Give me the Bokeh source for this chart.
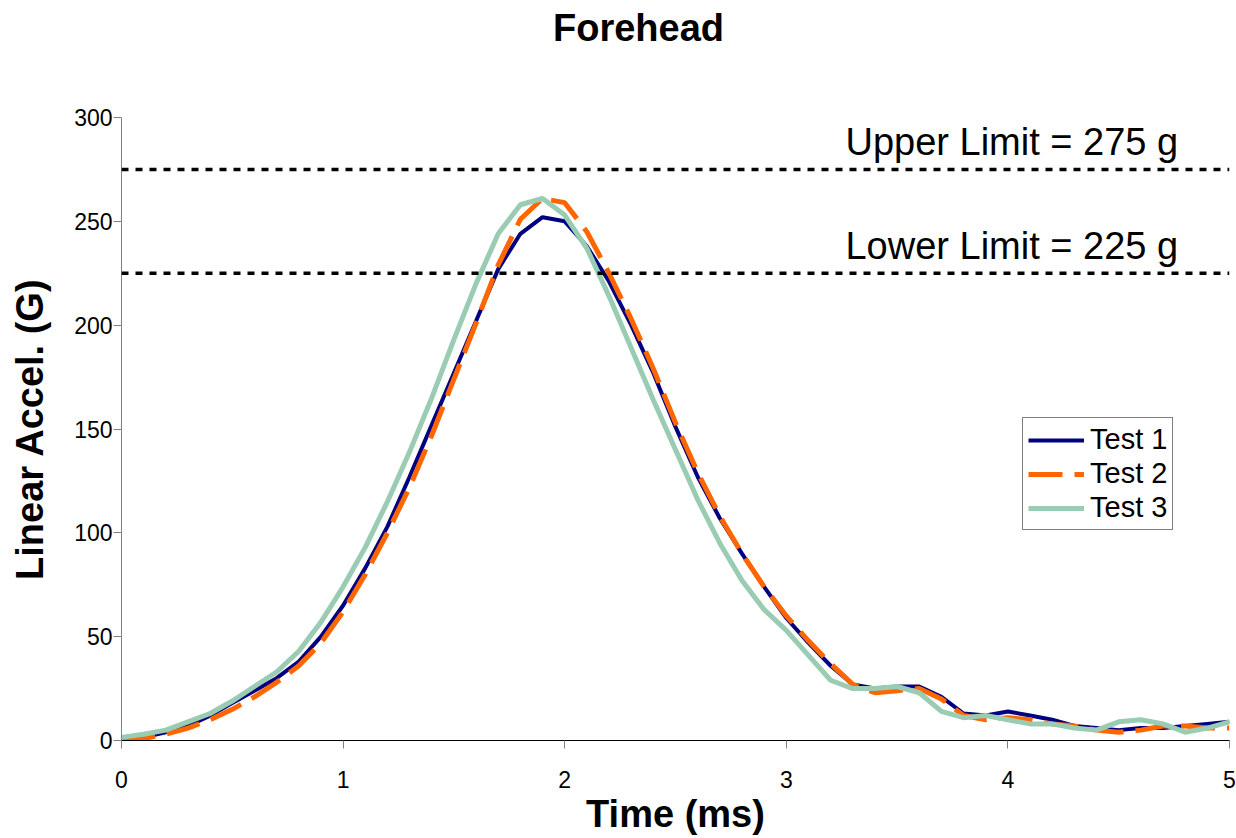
from bokeh.plotting import figure
from bokeh.models import Range1d, FixedTicker, Label, Span, Legend, LegendItem, LinearAxis
from bokeh.embed import file_html
from bokeh.resources import INLINE

title_text = "Forehead"
x_label = "Time (ms)"
y_label = "Linear Accel. (G)"

time_ms = [round(i * 0.1, 1) for i in range(51)]
test1 = [0.5, 1.5, 4, 7, 12, 18, 24, 30, 38, 50, 65, 83, 103, 127, 152, 177, 202, 227, 244, 252,
         250, 238, 221, 200, 177, 151, 127, 107, 90, 74, 59, 47, 36, 27, 25, 26, 26, 21, 13, 12,
         14, 12, 10, 7, 6, 5, 6, 6, 7, 8, 9]
test2 = [0, 1, 3, 6, 10, 15, 21, 28, 36, 47, 62, 80, 100, 122, 147, 174, 201, 229, 251, 261,
         259, 245, 225, 203, 179, 153, 129, 108, 90, 74, 60, 48, 37, 27, 23, 24, 25, 20, 12, 10,
         11, 10, 8, 7, 5, 4, 5, 7, 7, 6, 6]
test3 = [1.5, 3, 5, 9, 13, 19, 26, 33, 43, 57, 74, 93, 115, 139, 165, 193, 220, 244, 258, 261,
         253, 237, 214, 189, 164, 140, 116, 95, 77, 63, 53, 41, 29, 25, 25, 26, 23, 14, 11, 12,
         10, 8, 8, 6, 5, 9, 10, 8, 4, 6, 9]
series_names = ["Test 1", "Test 2", "Test 3"]
upper_limit = 275
lower_limit = 225
limit_texts = ["Upper Limit = 275 g", "Lower Limit = 225 g"]
x_ticks = [0, 1, 2, 3, 4, 5]
y_ticks = [0, 50, 100, 150, 200, 250, 300]

FONT = "Liberation Sans"

p = figure(width=1236, height=838, output_backend="svg", toolbar_location=None,
           x_range=Range1d(0, 5), y_range=Range1d(0, 300),
           min_border_left=121, min_border_right=7, min_border_top=117, min_border_bottom=98,
           frame_width=1108, frame_height=623)
p.outline_line_color = None
p.background_fill_color = "white"
p.border_fill_color = "white"
p.xgrid.visible = False
p.ygrid.visible = False

xax = p.below[0]
yax = p.left[0]

for ax in (xax, yax):
    ax.major_label_text_font = FONT
    ax.major_label_text_font_size = "23px"
    ax.major_label_text_color = "black"
    ax.axis_label_text_font = FONT
    ax.axis_label_text_font_size = "38px"
    ax.axis_label_text_font_style = "bold"
    ax.axis_label_text_color = "black"
    ax.minor_tick_line_color = None
    ax.major_tick_in = 0
    ax.major_tick_out = 8
    ax.major_tick_line_color = "#808080"

xax.ticker = FixedTicker(ticks=x_ticks)
yax.ticker = FixedTicker(ticks=y_ticks)
xax.axis_label = x_label
yax.axis_label = y_label
xax.axis_line_color = "black"
yax.axis_line_color = "#808080"
xax.major_label_standoff = 22
yax.major_label_standoff = 1
xax.axis_label_standoff = 2
yax.axis_label_standoff = 20

# chart title carried by a bare axis above the frame; trailing no-break spaces
# move the visible word to the page centre (the axis centres on the frame)
title_axis = LinearAxis(ticker=FixedTicker(ticks=[]),
                        axis_label=title_text + "\u00a0" * 7)
title_axis.axis_line_color = None
title_axis.major_tick_line_color = None
title_axis.minor_tick_line_color = None
title_axis.major_tick_out = 0
title_axis.major_tick_in = 0
title_axis.major_label_standoff = 0
title_axis.axis_label_standoff = 69
title_axis.axis_label_text_font = FONT
title_axis.axis_label_text_font_size = "38px"
title_axis.axis_label_text_font_style = "bold"
title_axis.axis_label_text_color = "black"
p.add_layout(title_axis, "above")

for yv in (upper_limit, lower_limit):
    p.add_layout(Span(location=yv, dimension="width", line_color="black",
                      line_width=3.5, line_dash="7 7"))

for txt, yv in zip(limit_texts, (upper_limit, lower_limit)):
    p.add_layout(Label(x=3.267, y=yv + 13, text=txt, text_font=FONT,
                       text_font_size="38px", text_baseline="alphabetic",
                       text_color="black"))

r1 = p.line(time_ms, test1, line_color="#000080", line_width=4)
r2 = p.line(time_ms, test2, line_color="#FF6600", line_width=5, line_dash="34 12")
r3 = p.line(time_ms, test3, line_color="#99CCB3", line_width=5)

legend = Legend(items=[LegendItem(label=series_names[0], renderers=[r1]),
                       LegendItem(label=series_names[1], renderers=[r2]),
                       LegendItem(label=series_names[2], renderers=[r3])],
                location=(901, 210))
legend.label_text_font = FONT
legend.label_text_font_size = "29px"
legend.label_text_color = "black"
legend.glyph_width = 56
legend.glyph_height = 30
legend.label_height = 30
legend.label_standoff = 6
legend.spacing = 1
legend.padding = 5
legend.margin = 0
legend.border_line_color = "black"
legend.border_line_width = 1
legend.background_fill_color = "white"
p.add_layout(legend)

open("out.html", "w").write(file_html(p, INLINE))
